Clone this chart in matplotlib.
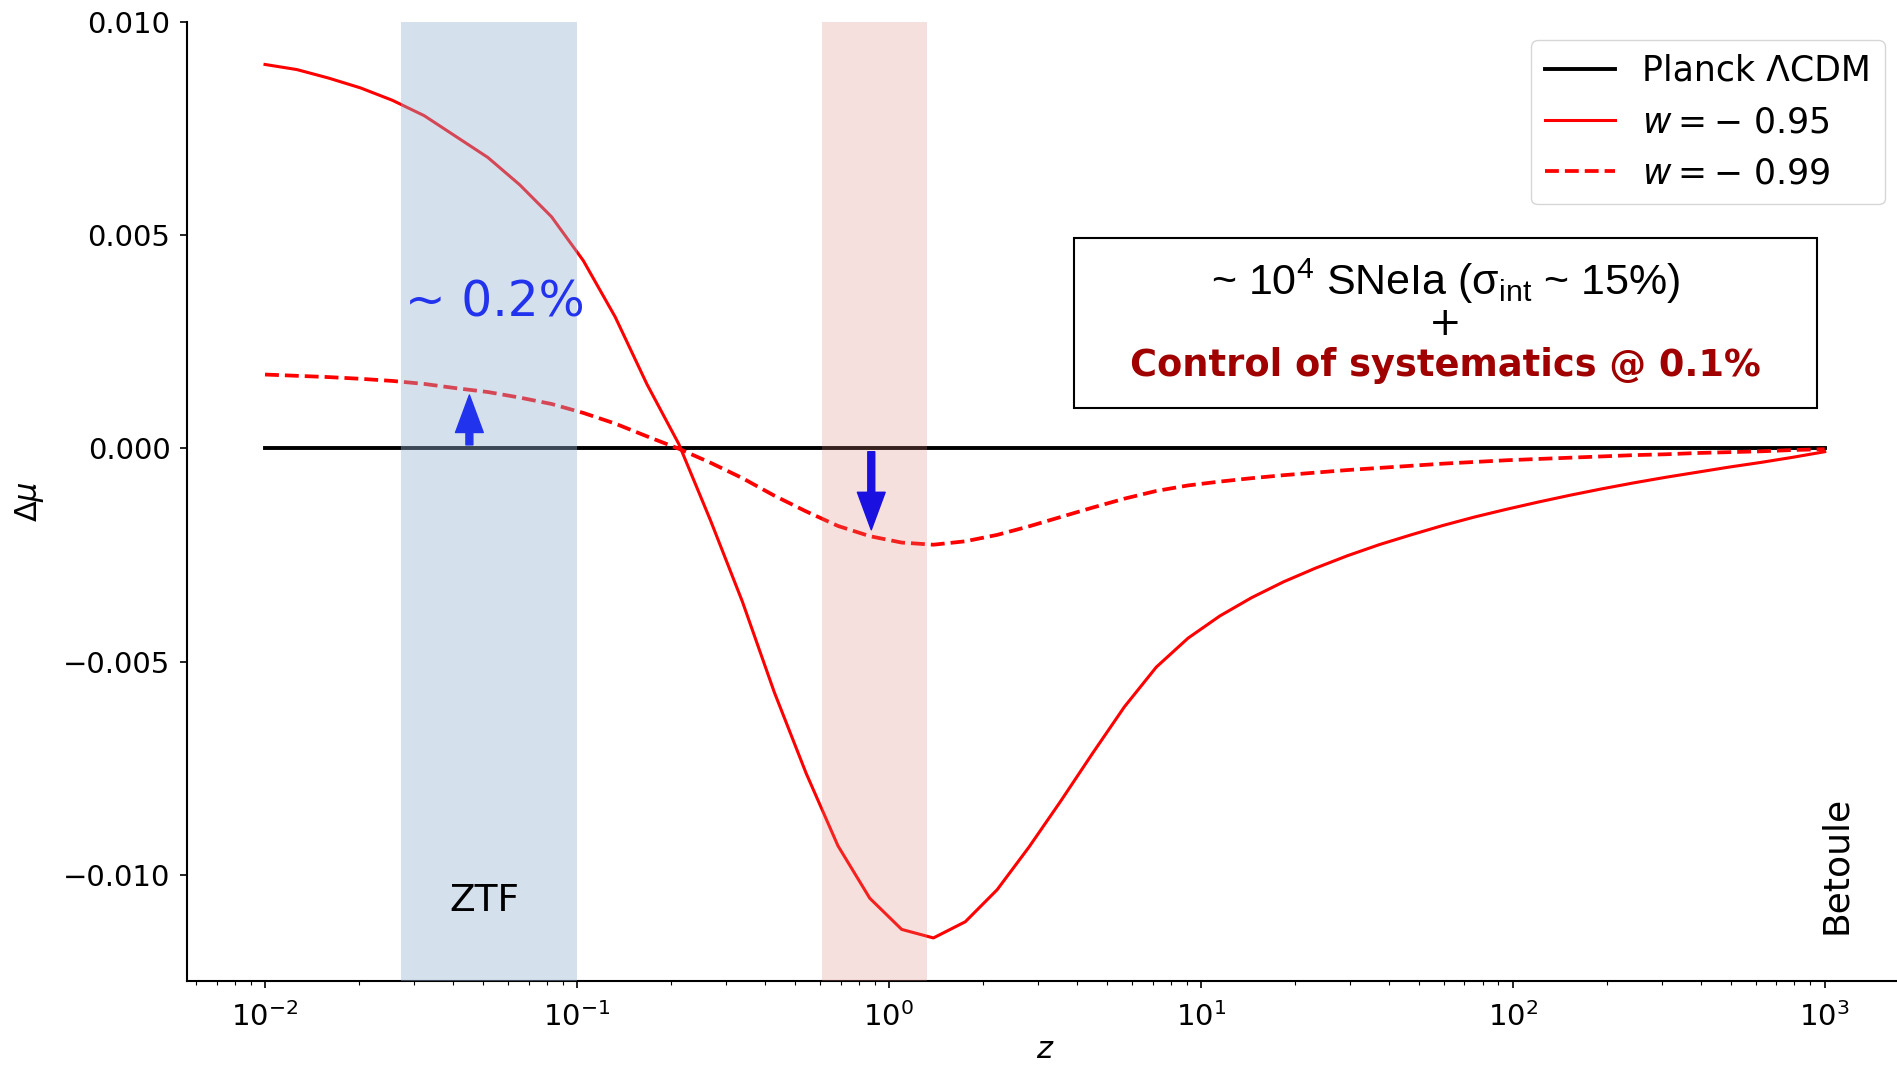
import numpy as np
import matplotlib.pyplot as plt
from matplotlib.patches import Rectangle

########################### DATA ###########################
# redshift grid of the model curves
z = [0.01, 0.01265, 0.0160, 0.02024, 0.02560, 0.03237, 0.04095, 0.05179, 0.06551, 0.08286,
     0.1048, 0.1326, 0.1677, 0.2121, 0.2683, 0.3393, 0.4292, 0.5429, 0.6866, 0.8685,
     1.099, 1.389, 1.758, 2.223, 2.812, 3.556, 4.498, 5.690, 7.197, 9.103,
     11.51, 14.56, 18.42, 23.30, 29.47, 37.28, 47.15, 59.64, 75.44, 95.41,
     120.7, 152.6, 193.1, 244.2, 308.9, 390.7, 494.2, 625.1, 790.6, 1000.0]

dmu_w095 = [0.00900, 0.00888, 0.00868, 0.00845, 0.00816, 0.00780, 0.00731, 0.00682, 0.00618, 0.00543,
            0.00440, 0.00308, 0.00150, 0.00010, -0.00170, -0.00360, -0.00572, -0.00762, -0.00932, -0.01055,
            -0.01128, -0.01148, -0.01110, -0.01035, -0.00935, -0.00827, -0.00715, -0.00606, -0.00513, -0.00445,
            -0.00393, -0.00350, -0.00313, -0.00281, -0.00252, -0.00226, -0.00203, -0.00181, -0.00161, -0.00143,
            -0.00126, -0.00110, -0.00095, -0.00081, -0.00068, -0.00056, -0.00044, -0.00033, -0.00021, -0.00008]

dmu_w099 = [0.00173, 0.00170, 0.00167, 0.00163, 0.00158, 0.00151, 0.00141, 0.00132, 0.00119, 0.00104,
            0.00083, 0.00058, 0.00028, -0.00001, -0.00034, -0.00070, -0.00111, -0.00148, -0.00182, -0.00206,
            -0.00221, -0.00226, -0.00218, -0.00203, -0.00183, -0.00161, -0.00139, -0.00118, -0.00100, -0.00087,
            -0.00078, -0.00070, -0.00063, -0.00057, -0.00051, -0.00046, -0.00041, -0.00036, -0.00032, -0.00028,
            -0.00025, -0.00022, -0.00019, -0.00016, -0.00014, -0.00011, -0.00009, -0.00007, -0.00004, -0.00002]

labels = ['Planck \u039bCDM', r'$w = -\ 0.95$', r'$w = -\ 0.99$']

ztf_band = (0.0272, 0.1)
deep_band = (0.612, 1.32)

arrow_up = (0.0452, 0.00008, 0.00125)       # x, tail y, tip y
arrow_down = (0.878, -0.00008, -0.00191)
############################################################

fig = plt.figure(figsize=(18.97, 10.69), dpi=100)
ax = fig.add_axes([0.0986, 0.0819, 0.9044, 0.8977])

ax.set_xscale('log')
ax.set_xlim(10**-2.25, 10**3.25)
ax.set_ylim(-0.0125, 0.0100)

ax.plot(z, np.zeros(len(z)), c='k', lw=2.8, label=labels[0], zorder=2)
ax.plot(z, dmu_w095, c='red', lw=2.2, label=labels[1], zorder=2)
ax.plot(z, dmu_w099, c='red', lw=2.7, ls='--', label=labels[2], zorder=2)

# survey bands (drawn over the curves, semi transparent)
ax.axvspan(*ztf_band, color='#96b2d4', alpha=0.4, lw=0, zorder=3)
ax.axvspan(*deep_band, color='#d8847c', alpha=0.25, lw=0, zorder=3)

for (xa, y0, y1), col in [(arrow_up, '#2233ee'), (arrow_down, '#1a10e0')]:
    ax.annotate('', xy=(xa, y1), xytext=(xa, y0),
                arrowprops=dict(facecolor=col, edgecolor=col, width=5, headwidth=20,
                                headlength=27, shrink=0), zorder=5)

ax.text(0.0545, 0.00343, '~ 0.2%', color='#2233ee', fontsize=35, ha='center', va='center', zorder=6)
ax.text(0.0504, -0.01061, 'ZTF', fontsize=27, ha='center', va='center', zorder=6)
ax.text(1086, -0.00976, 'Betoule', fontsize=26, rotation=90, ha='center', va='center', zorder=6)

for s in ['top', 'right']:
    ax.spines[s].set_visible(False)
for s in ['left', 'bottom']:
    ax.spines[s].set_linewidth(1.5)

ax.set_yticks([-0.010, -0.005, 0.0, 0.005, 0.010])
ax.set_yticklabels(['\u22120.010', '\u22120.005', '0.000', '0.005', '0.010'])
ax.tick_params(axis='both', which='major', labelsize=21, length=5, width=1.2)
ax.tick_params(axis='x', which='major', pad=10)
ax.tick_params(axis='y', which='major', pad=7)
ax.tick_params(axis='x', which='minor', length=3, width=0.8)

ax.set_xlabel(r'$z$', fontsize=22, labelpad=2)
ax.set_ylabel(r'$\Delta\mu$', fontsize=22, labelpad=12)

leg = ax.legend(loc='upper right', bbox_to_anchor=(0.9937, 0.9626), bbox_transform=fig.transFigure,
                fontsize=25, handlelength=2.0, borderaxespad=0)

# text box
fig.patches.append(Rectangle((0.5664, 0.618), 0.3916, 0.159, transform=fig.transFigure,
                             fill=False, ec='k', lw=1.5, zorder=10))
fig.text(0.762, 0.737, r'~ 10$\mathregular{^4}$ SNeIa ($\mathregular{\sigma_{int}}$ ~ 15%)',
         family=['Liberation Sans', 'DejaVu Sans'], fontsize=31, ha='center', va='center')
fig.text(0.762, 0.697, '+', fontsize=28, ha='center', va='center')
fig.text(0.762, 0.658, 'Control of systematics @ 0.1%', color='#a00000', fontsize=26.5,
         fontweight='bold', ha='center', va='center')

plt.savefig('out.png', dpi=100)
